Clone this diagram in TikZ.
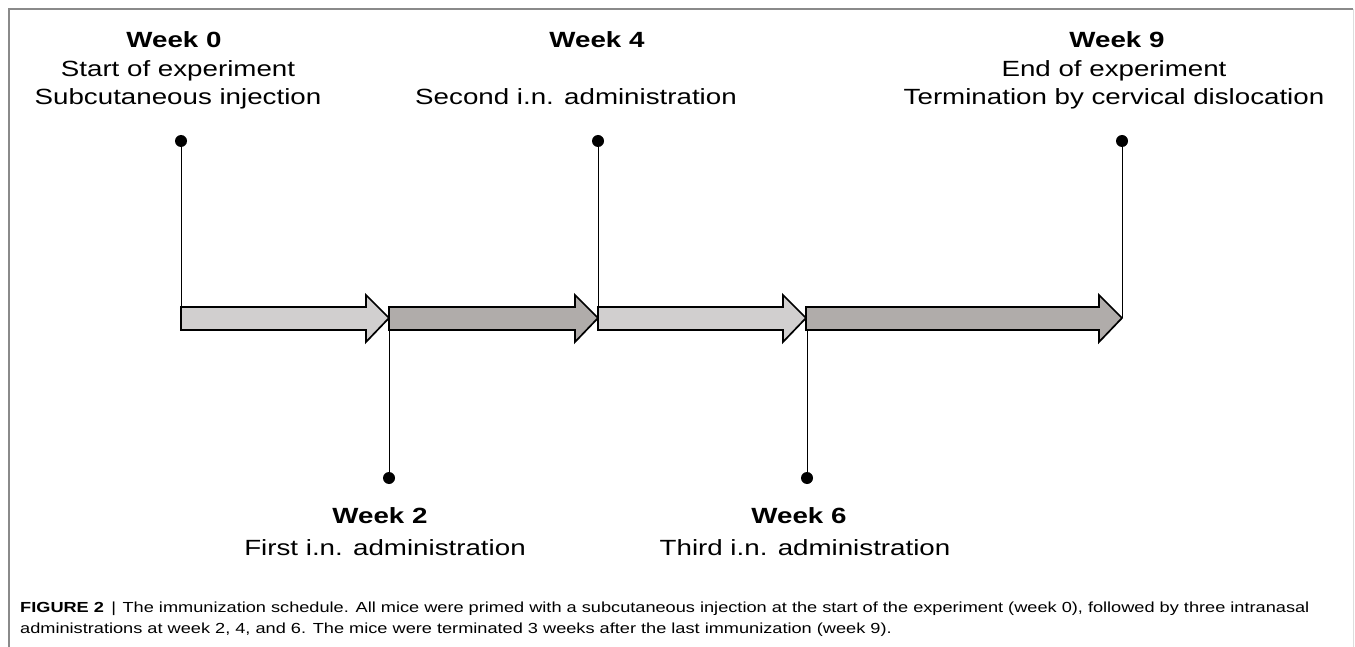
\documentclass[tikz,border=0pt]{standalone}
\usepackage{fontspec}
\setmainfont[FakeStretch=1.26]{Liberation Sans}
\newfontfamily\capfont[FakeStretch=1.245]{Liberation Sans}
\definecolor{lightarrow}{HTML}{D1CFCF}
\definecolor{darkarrow}{HTML}{B0ACAA}
\definecolor{framegray}{HTML}{8A8A8A}
\definecolor{framelight}{HTML}{DDDDDD}
\tikzset{
  lbl/.style={anchor=base, inner sep=0pt, font=\fontsize{22}{26}\selectfont},
  lblb/.style={lbl, font=\fontsize{22}{26}\selectfont\bfseries},
  captext/.style={anchor=base west, inner sep=0pt, font=\capfont\fontsize{14.6}{18}\selectfont},
  arrowL/.style={draw=black, line width=1.7pt, line join=miter, fill=lightarrow},
  arrowD/.style={draw=black, line width=1.7pt, line join=miter, fill=darkarrow},
  dotnode/.style={circle, fill=black, inner sep=0pt, minimum size=12pt},
  stem/.style={draw=black, line width=1pt},
}
\begin{document}
\begin{tikzpicture}[x=1pt,y=-1pt]
\useasboundingbox (0,0) rectangle (1355,647);
% frame
\draw[framegray, line width=1.2pt] (9,647) -- (9,9) -- (1353,9);
\draw[framelight, line width=1pt] (1353,9) -- (1353,647);

% arrows
\draw[arrowL] (181,307) -- (366,307) -- (366,295) -- (389,318) -- (366,342) -- (366,330) -- (181,330) -- cycle;
\draw[arrowD] (389,307) -- (575,307) -- (575,295) -- (598,318) -- (575,342) -- (575,330) -- (389,330) -- cycle;
\draw[arrowL] (598,307) -- (783,307) -- (783,295) -- (806,318) -- (783,342) -- (783,330) -- (598,330) -- cycle;
\draw[arrowD] (806,307) -- (1099,307) -- (1099,295) -- (1122,318) -- (1099,342) -- (1099,330) -- (806,330) -- cycle;

% anchor coordinates on arrows
\coordinate (a0) at (181,307);
\coordinate (a4) at (598,307);
\coordinate (a9) at (1122,318);
\coordinate (a2) at (389,318);
\coordinate (a6) at (807,330);

% dots
\node[dotnode] (d0) at (181,141) {};
\node[dotnode] (d4) at (598,141) {};
\node[dotnode] (d9) at (1122,141) {};
\node[dotnode] (d2) at (389,478) {};
\node[dotnode] (d6) at (807,478) {};

\draw[stem] (d0.center) -- (a0);
\draw[stem] (d4.center) -- (a4);
\draw[stem] (d9.center) -- (a9);
\draw[stem] (d2.center) -- (a2);
\draw[stem] (d6.center) -- (a6);

% labels top
\node[lblb] (w0) at (174,48) {Week 0};
\node[lbl] (w0a) at (178,77) {Start of experiment};
\node[lbl] (w0b) at (178,105) {Subcutaneous injection};

\node[lblb] (w4) at (597,48) {Week 4};
\node[lbl] (w4a) at (576,105) {Second i.n. administration};

\node[lblb] (w9) at (1117,48) {Week 9};
\node[lbl] (w9a) at (1114,77) {End of experiment};
\node[lbl] (w9b) at (1114,105) {Termination by cervical dislocation};

% labels bottom
\node[lblb] (w2) at (380,523) {Week 2};
\node[lbl] (w2a) at (385,555) {First i.n. administration};

\node[lblb] (w6) at (799,523) {Week 6};
\node[lbl] (w6a) at (805,555) {Third i.n. administration};

% caption
\node[captext] (c1) at (20,612) {\textbf{FIGURE 2}\hspace{0.5em}|\hspace{0.45em}The immunization schedule. All mice were primed with a subcutaneous injection at the start of the experiment (week 0), followed by three intranasal};
\node[captext] (c2) at (20,633) {administrations at week 2, 4, and 6. The mice were terminated 3 weeks after the last immunization (week 9).};
\end{tikzpicture}
\end{document}
